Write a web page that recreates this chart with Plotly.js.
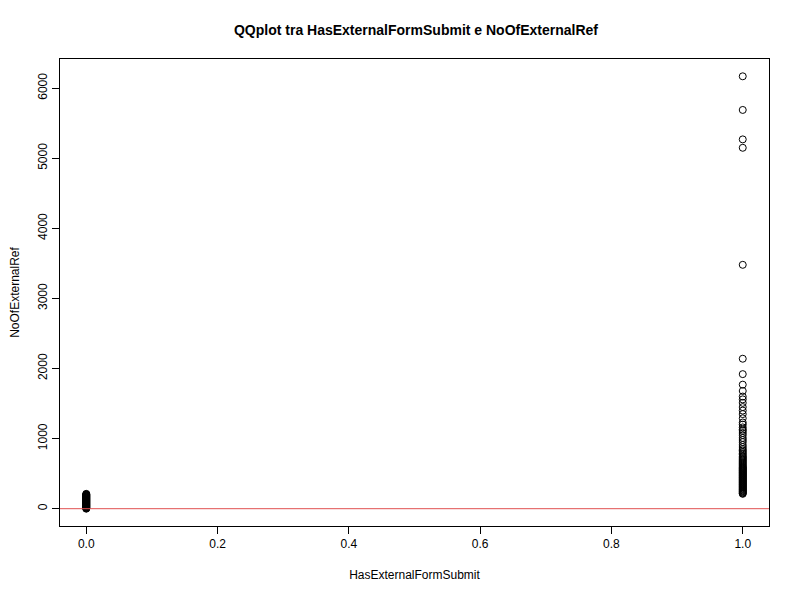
<!DOCTYPE html>
<html>
<head>
<meta charset="utf-8">
<script src="https://cdn.plot.ly/plotly-3.0.1.min.js"></script>
<style>body{margin:0;background:#fff}</style>
</head>
<body>
<div id="plot" style="width:800px;height:600px"></div>
<script>
// NoOfExternalRef values where HasExternalFormSubmit = 0
var leftValues = [0, 5, 10, 15, 20, 25, 30, 35, 40, 45, 50, 55, 60, 65, 70, 75, 80, 85, 90, 95,
    100, 105, 110, 115, 120, 125, 130, 135, 140, 145, 150, 155, 160, 165, 170, 175, 180, 185, 190, 195, 200, 205, 212];
// NoOfExternalRef values where HasExternalFormSubmit = 1
var rightValues = [212, 220, 230, 240, 250, 260, 270, 280, 290, 300, 310, 320, 330, 340, 350, 360, 370, 380,
    390, 400, 410, 420, 430, 440, 450, 460, 470, 480, 490, 500, 510, 520, 530, 540, 550, 560, 570, 580, 590,
    600, 615, 630, 645, 660, 675, 690, 705, 720, 735, 750, 770, 790, 810, 830, 850, 880, 910, 950, 980,
    1010, 1050, 1080, 1110, 1130, 1160, 1200, 1230, 1290, 1350, 1400, 1450, 1510, 1560, 1600, 1680, 1770,
    1920, 2140, 3480, 5150, 5270, 5690, 6170];

var x = [], y = [];
leftValues.forEach(function (v) { x.push(0); y.push(v); });
rightValues.forEach(function (v) { x.push(1); y.push(v); });

var pointsTrace = {
    x: x,
    y: y,
    mode: "markers",
    type: "scatter",
    marker: { symbol: "circle-open", size: 7, color: "#000", line: { width: 1 } },
};

var axisFont = { family: "Liberation Sans, Arial", size: 12, color: "#000" };
var layout = {
    width: 800,
    height: 600,
    showlegend: false,
    paper_bgcolor: "#fff",
    plot_bgcolor: "#fff",
    margin: { l: 60, r: 31, t: 59, b: 74 },
    font: axisFont,
    title: {
        text: "<b>QQplot tra HasExternalFormSubmit e NoOfExternalRef</b>",
        font: { family: "Liberation Sans, Arial", size: 14, color: "#000" },
        x: 0.52, xanchor: "center", y: 0.95, yanchor: "middle",
    },
    xaxis: {
        range: [-0.04, 1.04],
        tickvals: [0, 0.2, 0.4, 0.6, 0.8, 1],
        ticktext: ["0.0", "0.2", "0.4", "0.6", "0.8", "1.0"],
        ticks: "outside", ticklen: 7, tickcolor: "#000",
        showgrid: false, zeroline: false,
        showline: true, linecolor: "#000", mirror: true,
        title: { text: "HasExternalFormSubmit", font: axisFont, standoff: 20 },
    },
    yaxis: {
        range: [-247, 6417],
        tickvals: [0, 1000, 2000, 3000, 4000, 5000, 6000],
        tickangle: -90,
        ticks: "outside", ticklen: 7, tickcolor: "#000",
        showgrid: false, zeroline: false,
        showline: true, linecolor: "#000", mirror: true,
        title: { text: "NoOfExternalRef", font: axisFont, standoff: 14 },
    },
    shapes: [{
        type: "line", xref: "paper", yref: "y", x0: 0, x1: 1, y0: 0, y1: 0,
        line: { color: "#e05050", width: 1 },
    }],
};

Plotly.newPlot("plot", [pointsTrace], layout, { staticPlot: true });
</script>
</body>
</html>
